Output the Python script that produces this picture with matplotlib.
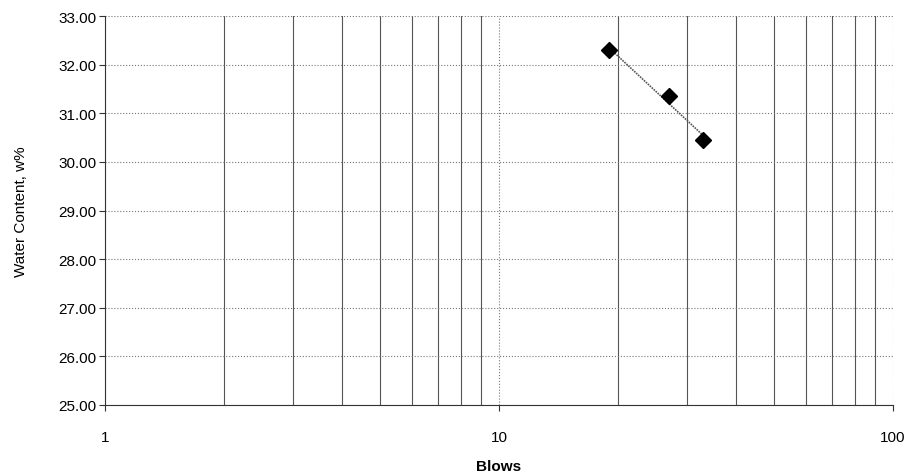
import numpy as np
import matplotlib
matplotlib.use("Agg")
from matplotlib import pyplot as plt
from matplotlib.ticker import FixedLocator, NullFormatter, FuncFormatter

plt.rcParams['font.family'] = ['Liberation Sans', 'DejaVu Sans']

blows = [19, 27, 33]
water = [32.30, 31.35, 30.45]

fig = plt.figure(figsize=(9.13, 4.77), dpi=100)
ax = fig.add_axes([0.115, 0.149, 0.863, 0.815])

# trend line through the points (linear in log x)
coef = np.polyfit(np.log10(blows), water, 1)
xs = np.array([min(blows), max(blows)])
ax.plot(xs, np.polyval(coef, np.log10(xs)), color='#555555', lw=1.2, ls=(0, (1, 0.6)), zorder=3)
ax.plot(blows, water, ls='none', marker='D', ms=8, color='black', zorder=4)

ax.set_xscale('log')
ax.set_xlim(1, 100)
ax.set_ylim(25, 33)
ax.set_yticks(np.arange(25, 33.01, 1))
ax.yaxis.set_major_formatter(FuncFormatter(lambda v, p: f"{v:.2f}"))
ax.xaxis.set_major_locator(FixedLocator([1, 10, 100]))
ax.xaxis.set_major_formatter(FuncFormatter(lambda v, p: f"{v:g}"))
ax.xaxis.set_minor_locator(FixedLocator([i * d for d in (1, 10) for i in range(2, 10)]))
ax.xaxis.set_minor_formatter(NullFormatter())

ax.grid(True, which='minor', axis='x', color='#555555', lw=0.8, ls='-')
ax.grid(True, which='major', axis='x', color='#777777', lw=0.8, ls=':')
ax.grid(True, which='major', axis='y', color='#777777', lw=0.8, ls=':')
ax.set_axisbelow(True)

for side in ('top', 'right'):
    ax.spines[side].set_visible(False)
ax.spines['left'].set_color('#333333')
ax.spines['bottom'].set_color('#333333')

ax.tick_params(axis='both', which='major', labelsize=11, length=4, color='#333333')
ax.tick_params(axis='y', which='major', pad=2)
ax.tick_params(axis='x', which='major', pad=14)
ax.tick_params(axis='x', which='minor', length=0)
ax.set_xlabel('Blows', fontsize=11, fontweight='bold', labelpad=11)
ax.set_ylabel('Water Content, w%', fontsize=11, labelpad=22)

fig.savefig('out.png', dpi=100)
